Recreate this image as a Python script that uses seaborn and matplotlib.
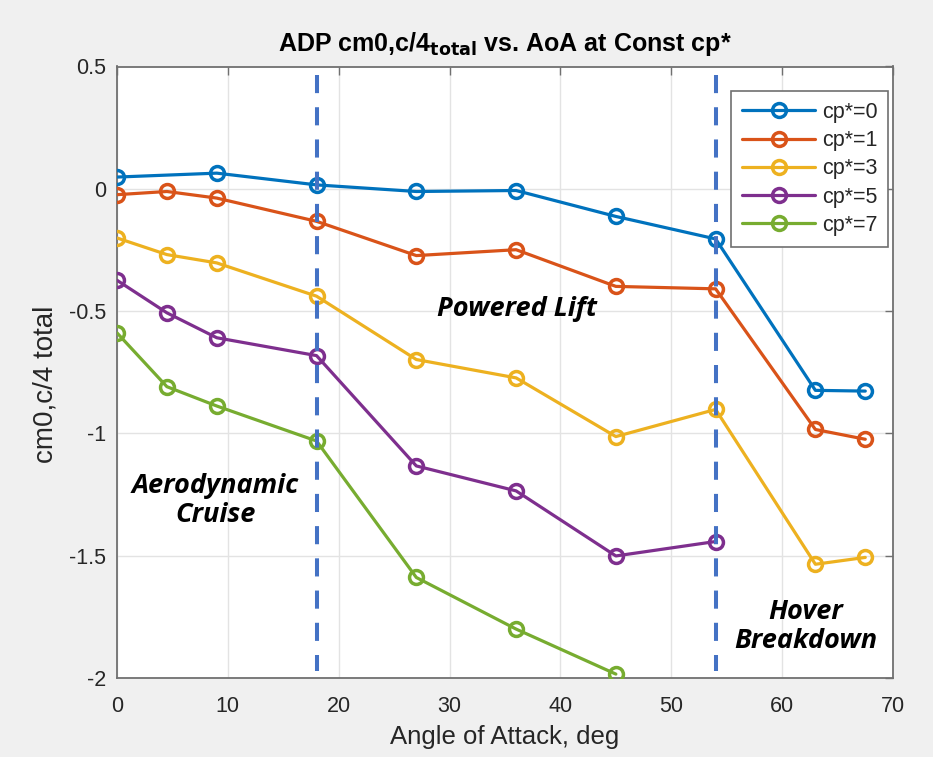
import numpy as np
import pandas as pd
import matplotlib
matplotlib.use("Agg")
import matplotlib.pyplot as plt
import seaborn as sns

# Angle of attack sweep (deg)
aoa = [0, 4.5, 9, 18, 27, 36, 45, 54, 63, 67.5]

# Total quarter-chord pitching moment at constant cp*
cm_cp0 = [0.048, np.nan, 0.064, 0.016, -0.011, -0.007, -0.113, -0.205, -0.824, -0.827]
cm_cp1 = [-0.024, -0.011, -0.038, -0.133, -0.273, -0.249, -0.399, -0.409, -0.984, -1.024]
cm_cp3 = [-0.201, -0.269, -0.303, -0.439, -0.698, -0.773, -1.013, -0.902, -1.535, -1.507]
cm_cp5 = [-0.374, -0.507, -0.609, -0.682, -1.133, -1.235, -1.501, -1.442, np.nan, np.nan]
cm_cp7 = [-0.589, -0.809, -0.888, -1.031, -1.589, -1.800, -1.984, np.nan, np.nan, np.nan]

series_labels = ["cp*=0", "cp*=1", "cp*=3", "cp*=5", "cp*=7"]
series_values = [cm_cp0, cm_cp1, cm_cp3, cm_cp5, cm_cp7]

# Regime boundaries (deg)
boundaries = [18, 54]

x_ticks = [0, 10, 20, 30, 40, 50, 60, 70]
y_ticks = [-2, -1.5, -1, -0.5, 0, 0.5]
y_tick_labels = ["-2", "-1.5", "-1", "-0.5", "0", "0.5"]

colors = ["#0072BD", "#D95319", "#EDB120", "#7E2F8E", "#77AC30"]

frames = []
for lab, vals in zip(series_labels, series_values):
    frames.append(pd.DataFrame({"AoA": aoa, "cm": vals, "series": lab}))
df = pd.concat(frames).dropna()

sns.set_style("whitegrid")
plt.rcParams["font.family"] = ["Liberation Sans", "DejaVu Sans"]

MS, MEW, LW = 10, 2.5, 2.3
frame_col = "#707070"
text_col = "#262626"

fig = plt.figure(figsize=(9.33, 7.57), dpi=100, facecolor="#F0F0F0")
ax = fig.add_axes([117 / 933, 1 - 678 / 757, (893 - 117) / 933, (678 - 66.5) / 757])
ax.set_facecolor("white")

sns.lineplot(data=df, x="AoA", y="cm", hue="series", hue_order=series_labels,
             palette=colors, marker="o", markersize=MS, markerfacecolor="none",
             markeredgewidth=MEW, linewidth=LW, ax=ax, legend=False, sort=True)
for line in ax.lines:
    line.set_markeredgecolor(line.get_color())
    line.set_zorder(3)

for xb in boundaries:
    ax.plot([xb, xb], [0.465, -1.97], color="#4472C4", linestyle=(0, (4.5, 3.5)),
            linewidth=2.9, zorder=4)

ax.set_xlim(0, 70)
ax.set_ylim(-2, 0.5)
ax.set_xticks(x_ticks)
ax.set_yticks(y_ticks)
ax.set_yticklabels(y_tick_labels)
ax.tick_params(axis="both", which="both", direction="in", length=6, width=1,
               colors=frame_col, labelsize=15.5, top=True, right=True,
               labelcolor=text_col)
ax.tick_params(axis="x", pad=13)
ax.tick_params(axis="y", pad=8)
ax.grid(True, color="#E3E3E3", linewidth=1)
ax.set_axisbelow(True)
for sp in ax.spines.values():
    sp.set_color(frame_col)
    sp.set_linewidth(1.3)

ax.set_xlabel("Angle of Attack, deg", fontsize=18.5, color=text_col, labelpad=6)
ax.set_ylabel("cm0,c/4 total", fontsize=20, color=text_col)
ax.yaxis.set_label_coords(-0.076, 0.48)
ax.set_title(r"ADP cm0,c/4$_{\mathbf{total}}$ vs. AoA at Const cp*",
             fontsize=18, fontweight="bold", color="black", pad=11)

handles = [plt.Line2D([], [], color=c, marker="o", markersize=MS,
                      markerfacecolor="none", markeredgecolor=c,
                      markeredgewidth=MEW, linewidth=LW)
           for c in colors]
leg = ax.legend(handles, series_labels, loc="upper right",
                bbox_to_anchor=(0.9936, 0.96), fontsize=15.5, frameon=True,
                fancybox=False, edgecolor=frame_col, framealpha=1,
                handlelength=3.4, borderpad=0.5, labelspacing=0.34,
                handletextpad=0.3, borderaxespad=0)
leg.get_frame().set_linewidth(1.2)

note_font = dict(fontsize=19.5, fontweight="bold", fontstyle="italic",
                 family=["Open Sans", "DejaVu Sans"], ha="center", va="center",
                 color="black", linespacing=1.15)
ax.text(8.85, -1.273, "Aerodynamic\nCruise", **note_font)
ax.text(36.1, -0.49, "Powered Lift", **note_font)
ax.text(62.1, -1.79, "Hover\nBreakdown", **note_font)

fig.savefig("out.png", dpi=100, facecolor=fig.get_facecolor())
